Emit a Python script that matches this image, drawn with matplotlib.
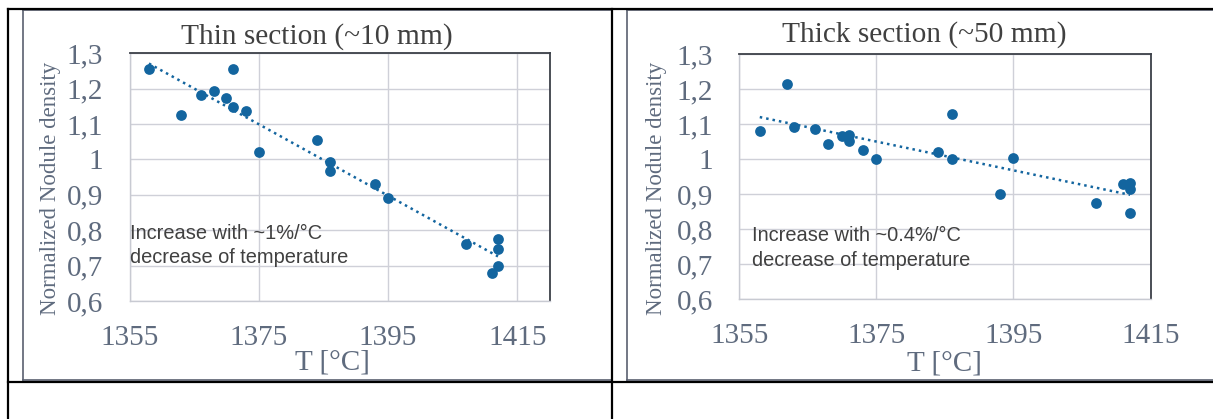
import numpy as np
import matplotlib
matplotlib.use('Agg')
import matplotlib.pyplot as plt
from matplotlib.lines import Line2D

# values
thin_T = [1358, 1363, 1366, 1368, 1370, 1371, 1371, 1373, 1375, 1384,
          1386, 1386, 1393, 1395, 1407, 1412, 1412, 1412, 1411]
thin_N = [1.256, 1.127, 1.182, 1.193, 1.173, 1.149, 1.256, 1.138, 1.020, 1.056,
          0.994, 0.968, 0.930, 0.891, 0.760, 0.776, 0.747, 0.698, 0.679]

thick_T = [1358, 1362, 1363, 1366, 1368, 1370, 1371, 1371, 1373, 1375,
           1384, 1386, 1386, 1395, 1393, 1407, 1411, 1412, 1412, 1412]
thick_N = [1.082, 1.216, 1.092, 1.087, 1.043, 1.066, 1.068, 1.053, 1.027, 1.001,
           1.020, 1.129, 1.001, 1.004, 0.899, 0.876, 0.929, 0.931, 0.916, 0.847]

x_ticks = [1355, 1375, 1395, 1415]
y_ticks = [0.6, 0.7, 0.8, 0.9, 1.0, 1.1, 1.2, 1.3]
y_labels = ['0,6', '0,7', '0,8', '0,9', '1', '1,1', '1,2', '1,3']

titles = ['Thin section (~10 mm)', 'Thick section (~50 mm)']
notes = ['Increase with ~1%/°C\ndecrease of temperature',
         'Increase with ~0.4%/°C\ndecrease of temperature']

W, H = 1213, 419
blue = '#13659f'
axis_col = '#5f6b7e'
title_col = '#404040'
serif = 'Liberation Serif'
sans = 'Liberation Sans'

fig = plt.figure(figsize=(W / 100, H / 100), dpi=100)


def box(l, t, r, b):
    return [l / W, 1 - b / H, (r - l) / W, (b - t) / H]


def line(x0, y0, x1, y1, color, lw):
    fig.add_artist(Line2D([x0 / W, x1 / W], [1 - y0 / H, 1 - y1 / H],
                          transform=fig.transFigure, color=color, lw=lw))


# table and picture frames
line(23, 10, 612, 10, '#5a6070', 1.2)
line(23, 10, 23, 380, '#5a6070', 1.2)
line(23, 380, 612, 380, '#5a6070', 1.2)
line(627, 10, 1213, 10, '#5a6070', 1.2)
line(627, 10, 627, 380, '#5a6070', 1.2)
line(627, 380, 1213, 380, '#5a6070', 1.2)
line(8, 9, 1213, 9, 'black', 1.6)
line(8, 382, 1213, 382, 'black', 1.6)
line(8, 9, 8, 419, 'black', 1.6)
line(612, 9, 612, 419, 'black', 1.6)

panels = [
    (thin_T, thin_N, box(129.5, 53.3, 549.7, 301), 1420,
     (0.446, 1.067), (-0.189, 0.456), (0.483, -0.25), (0.0, 0.224)),
    (thick_T, thick_N, box(739.2, 54.3, 1150.6, 299), 1415,
     (0.449, 1.079), (-0.2, 0.452), (0.499, -0.262), (0.032, 0.208)),
]

for i, (T, N, pos, xmax, tpos, ylpos, xlpos, npos) in enumerate(panels):
    ax = fig.add_axes(pos)
    ax.set_xlim(1355, xmax)
    ax.set_ylim(0.6, 1.3)
    ax.set_xticks(x_ticks)
    ax.set_yticks(y_ticks)
    ax.set_yticklabels(y_labels)
    ax.grid(True, color='#cfd0d8', lw=1.0)
    ax.set_axisbelow(True)
    ax.tick_params(length=0, labelsize=21, labelcolor=axis_col)
    ax.tick_params(axis='y', pad=19)
    ax.tick_params(axis='x', pad=17)
    for lab in ax.get_xticklabels() + ax.get_yticklabels():
        lab.set_fontfamily(serif)
    for s in ['top', 'right']:
        ax.spines[s].set_color('#3c4048')
        ax.spines[s].set_linewidth(1.3)
    for s in ['left', 'bottom']:
        ax.spines[s].set_color('#c8cad2')
        ax.spines[s].set_linewidth(1.0)

    ax.scatter(T, N, s=60, color=blue, zorder=3, linewidths=0)

    # linear trend line
    k, b = np.polyfit(T, N, 1)
    xs = np.array([min(T), max(T)])
    ax.plot(xs, k * xs + b, ls=(0, (1, 1.6)), lw=1.8, color=blue, zorder=2)

    ax.text(tpos[0], tpos[1], titles[i], transform=ax.transAxes, ha='center',
            va='center', fontsize=21.2, family=serif, color=title_col)
    ax.set_ylabel('Normalized Nodule density', fontsize=16.5, family=serif,
                  color=axis_col, va='center')
    ax.yaxis.set_label_coords(*ylpos)
    ax.set_xlabel('T [°C]', fontsize=21, family=serif, color=axis_col,
                  va='center')
    ax.xaxis.set_label_coords(*xlpos)
    ax.text(npos[0], npos[1], notes[i], transform=ax.transAxes, ha='left',
            va='center', fontsize=14.4, family=sans, color=title_col,
            linespacing=1.36)

fig.savefig('out.png', dpi=100)
